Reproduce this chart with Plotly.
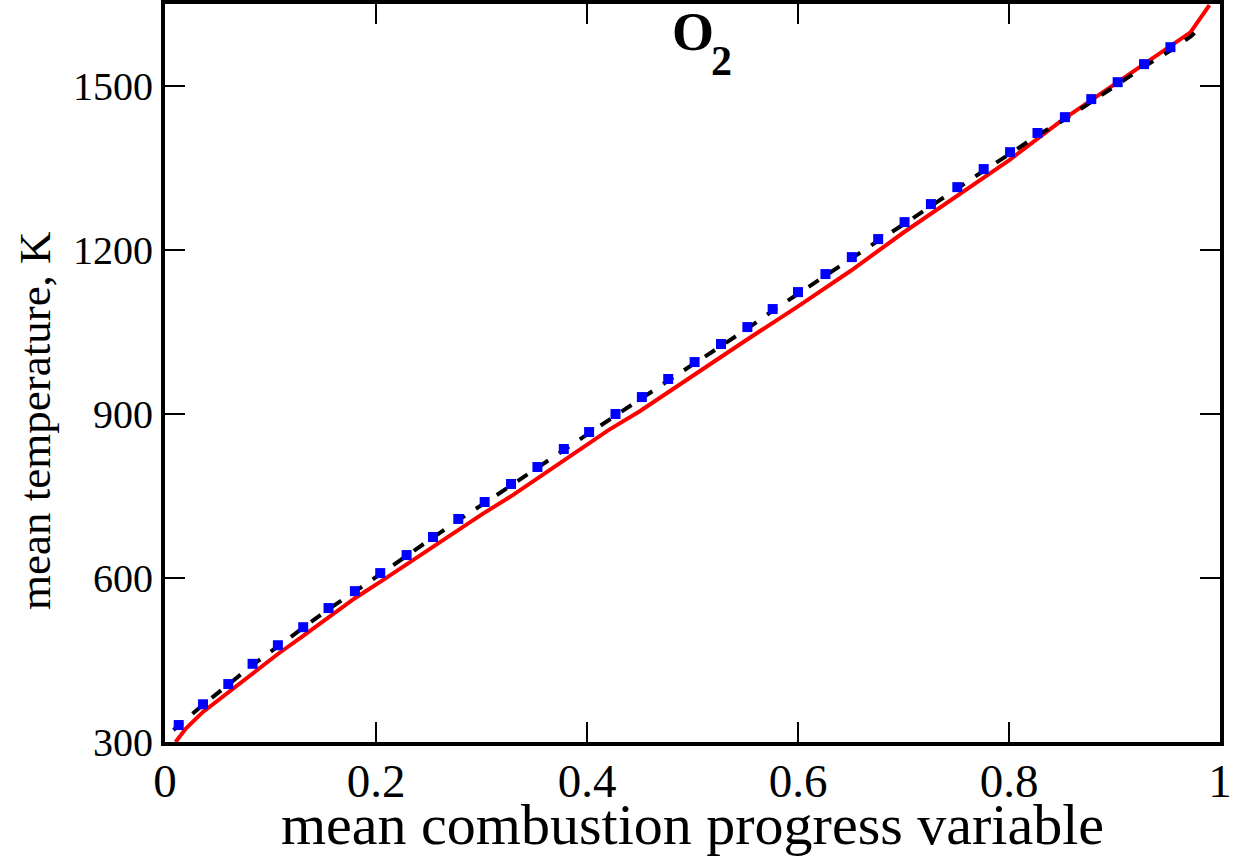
import plotly.graph_objects as go

# Blue square markers (sampled points)
marker_x = [0.013, 0.036, 0.060, 0.083, 0.107, 0.131, 0.155, 0.180, 0.204, 0.229,
            0.254, 0.278, 0.303, 0.328, 0.353, 0.378, 0.402, 0.427, 0.452, 0.477,
            0.502, 0.527, 0.552, 0.576, 0.600, 0.626, 0.651, 0.676, 0.701, 0.726,
            0.751, 0.776, 0.801, 0.827, 0.853, 0.878, 0.903, 0.928, 0.953]
marker_y = [331, 369, 406, 443, 477, 510, 545, 576, 609, 642,
            675, 708, 739, 772, 803, 836, 867, 900, 931, 964,
            995, 1028, 1059, 1092, 1123, 1156, 1187, 1220, 1251, 1284,
            1315, 1348, 1379, 1414, 1443, 1476, 1507, 1540, 1571]

# Black dashed curve
dash_x = [0.008, 0.036, 0.060, 0.083, 0.107, 0.131, 0.155, 0.180, 0.204, 0.229,
          0.254, 0.278, 0.303, 0.328, 0.353, 0.378, 0.402, 0.427, 0.452, 0.477,
          0.502, 0.527, 0.552, 0.576, 0.600, 0.626, 0.651, 0.676, 0.701, 0.726,
          0.751, 0.776, 0.801, 0.827, 0.853, 0.878, 0.903, 0.928, 0.953, 0.972, 0.984]
dash_y = [322, 368, 405, 441, 475, 508, 543, 575, 607, 640,
          673, 706, 737, 770, 801, 834, 865, 898, 929, 961,
          993, 1025, 1056, 1089, 1120, 1153, 1184, 1217, 1248, 1281,
          1312, 1345, 1376, 1410, 1439, 1472, 1503, 1535, 1565, 1590, 1612]

# Red solid curve
red_x = [0.010, 0.020, 0.036, 0.060, 0.083, 0.107, 0.131, 0.155, 0.180, 0.204,
         0.250, 0.300, 0.330, 0.350, 0.400, 0.420, 0.450, 0.500, 0.550, 0.600,
         0.650, 0.700, 0.750, 0.800, 0.850, 0.900, 0.950, 0.972, 0.990]
red_y = [300, 325, 355, 391, 426, 461, 494, 528, 563, 593,
         652, 716, 752, 778, 842, 870, 905, 970, 1034, 1097,
         1162, 1232, 1298, 1364, 1437, 1503, 1568, 1598, 1648]

x_ticks = [0, 0.2, 0.4, 0.6, 0.8, 1]
x_ticklabels = ["0", "0.2", "0.4", "0.6", "0.8", "1"]
y_ticks = [300, 600, 900, 1200, 1500]
y_ticklabels = ["300", "600", "900", "1200", "1500"]

FONT = "Liberation Serif"

fig = go.Figure()
fig.add_trace(go.Scatter(x=red_x, y=red_y, mode="lines",
                         line=dict(color="#ff0000", width=4), showlegend=False))
fig.add_trace(go.Scatter(x=dash_x, y=dash_y, mode="lines",
                         line=dict(color="black", width=4, dash="12px,13px"), showlegend=False))
fig.add_trace(go.Scatter(x=marker_x, y=marker_y, mode="markers",
                         marker=dict(symbol="square", color="#0000ff", size=10,
                                     line=dict(width=0)), showlegend=False))

axis_common = dict(showline=True, linewidth=4, linecolor="black", mirror="ticks",
                   ticks="inside", ticklen=20, tickwidth=2, tickcolor="black",
                   showgrid=False, zeroline=False, automargin=False)

fig.update_xaxes(range=[0, 1], tickvals=x_ticks, ticktext=x_ticklabels,
                 tickfont=dict(family=FONT, size=47, color="black"),
                 ticklabelstandoff=-5, **axis_common)
fig.update_yaxes(range=[300, 1650], tickvals=y_ticks, ticktext=y_ticklabels,
                 tickfont=dict(family=FONT, size=40, color="black"), **axis_common)

fig.update_layout(
    width=1242, height=861,
    margin=dict(l=165, r=22, t=4, b=119),
    plot_bgcolor="white", paper_bgcolor="white",
    annotations=[
        dict(text="<b>O</b>", x=0.5, y=1, xref="paper", yref="paper",
             xanchor="center", yanchor="top", yshift=4, xshift=0, showarrow=False,
             font=dict(family=FONT, size=54, color="black")),
        dict(text="<b>2</b>", x=0.5, y=1, xref="paper", yref="paper",
             xanchor="center", yanchor="top", yshift=-32, xshift=29, showarrow=False,
             font=dict(family=FONT, size=42, color="black")),
        dict(text="mean combustion progress variable", x=0.5, y=0, xref="paper", yref="paper",
             xanchor="center", yanchor="top", yshift=-48, showarrow=False,
             font=dict(family=FONT, size=58, color="black")),
        dict(text="mean temperature, K", x=0, y=0.435, xref="paper", yref="paper",
             xanchor="center", yanchor="middle", xshift=-130, textangle=-90, showarrow=False,
             font=dict(family=FONT, size=45, color="black")),
    ],
)

fig.write_html("out.html", config={"displayModeBar": False},
               post_script="document.body.style.margin='0';document.body.style.overflow='hidden';")
